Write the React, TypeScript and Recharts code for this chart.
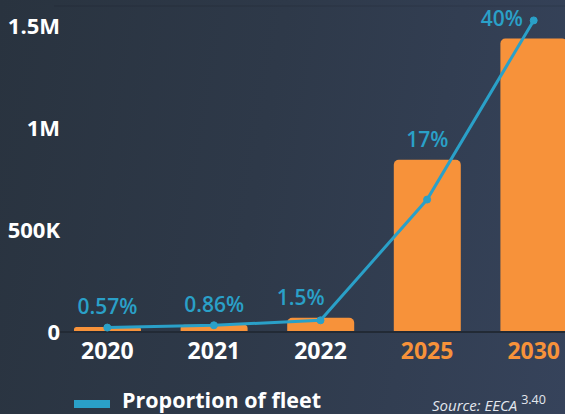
import {
  ComposedChart,
  Bar,
  Line,
  XAxis,
  YAxis,
  CartesianGrid,
  LabelList,
} from "recharts";

const years = ["2020", "2021", "2022", "2025", "2030"];
const evCount = [25000, 35000, 70000, 845000, 1440000];
const fleetShare = [0.57, 0.86, 1.5, 17, 40];
const shareLabels = ["0.57%", "0.86%", "1.5%", "17%", "40%"];
const projected = [false, false, false, true, true];
const leftTicks = [0, 500000, 1000000, 1500000];
const leftTickLabels: Record<number, string> = {
  0: "0",
  500000: "500K",
  1000000: "1M",
  1500000: "1.5M",
};

const ORANGE = "#f7923a";
const BLUE = "#2aa0c8";
const FONT = "'Open Sans', 'Noto Sans', sans-serif";

// labels near the right edge get nudged left
const labelShift = [0, 0, -20, 0, -32];

const data = years.map((y, i) => ({
  year: y,
  count: evCount[i],
  share: fleetShare[i],
}));

function YTick({ y, payload }: any) {
  return (
    <text
      x={60}
      y={y}
      dy={8}
      textAnchor="end"
      fill="#ffffff"
      fontFamily={FONT}
      fontWeight={700}
      fontSize={22}
    >
      {leftTickLabels[payload.value]}
    </text>
  );
}

function XTick({ x, y, payload, index }: any) {
  return (
    <text
      x={x}
      y={y}
      dy={19}
      textAnchor="middle"
      fill={projected[index] ? ORANGE : "#ffffff"}
      fontFamily={FONT}
      fontWeight={700}
      fontSize={23}
    >
      {payload.value}
    </text>
  );
}

function ShareLabel({ x, y, width, index }: any) {
  return (
    <text
      x={x + width / 2 + labelShift[index]}
      y={y - 13}
      textAnchor="middle"
      fill={BLUE}
      fontFamily={FONT}
      fontWeight={600}
      fontSize={21}
    >
      {shareLabels[index]}
    </text>
  );
}

export default function App() {
  return (
    <div
      style={{
        position: "absolute",
        left: 0,
        top: 0,
        width: 565,
        height: 414,
        overflow: "hidden",
        background: "linear-gradient(100deg, #29333f 0%, #2e3949 45%, #36435b 100%)",
        fontFamily: FONT,
      }}
    >
      <ComposedChart
        width={587}
        height={414}
        data={data}
        margin={{ top: 6, right: 0, bottom: 42, left: 0 }}
      >
        <CartesianGrid
          vertical={false}
          stroke="#000000"
          strokeOpacity={0.12}
        />
        <XAxis
          dataKey="year"
          axisLine={{ stroke: "#222a35", strokeWidth: 2 }}
          tickLine={false}
          tick={<XTick />}
          height={40}
          interval={0}
        />
        <YAxis
          yAxisId="count"
          width={54}
          domain={[0, 1600000]}
          ticks={leftTicks}
          axisLine={false}
          tickLine={false}
          tick={<YTick />}
        />
        <YAxis
          yAxisId="share"
          orientation="right"
          hide
          domain={[0, 41.85]}
        />
        <Bar
          yAxisId="count"
          dataKey="count"
          fill={ORANGE}
          barSize={67}
          radius={[5, 5, 0, 0]}
          isAnimationActive={false}
        >
          <LabelList dataKey="count" content={<ShareLabel />} />
        </Bar>
        <Line
          yAxisId="share"
          dataKey="share"
          type="linear"
          stroke={BLUE}
          strokeWidth={3}
          dot={{ r: 3.5, fill: BLUE, stroke: BLUE, strokeWidth: 1 }}
          isAnimationActive={false}
        />
      </ComposedChart>
      <div
        style={{
          position: "absolute",
          left: 74,
          top: 389,
          height: 22,
          display: "flex",
          alignItems: "center",
          whiteSpace: "nowrap",
        }}
      >
        <div style={{ width: 36, height: 8, background: BLUE, marginRight: 12, marginTop: 7 }} />
        <span style={{ color: "#ffffff", fontWeight: 700, fontSize: 21.5, lineHeight: "22px" }}>
          Proportion of fleet
        </span>
      </div>
      <div
        style={{
          position: "absolute",
          left: 432,
          top: 397,
          color: "#e3e7ee",
          fontSize: 15,
          lineHeight: "16px",
          fontStyle: "italic",
          whiteSpace: "nowrap",
        }}
      >
        Source: EECA{" "}
        <span style={{ fontSize: 12.5, fontStyle: "normal", position: "relative", top: -7 }}>
          3.40
        </span>
      </div>
    </div>
  );
}
